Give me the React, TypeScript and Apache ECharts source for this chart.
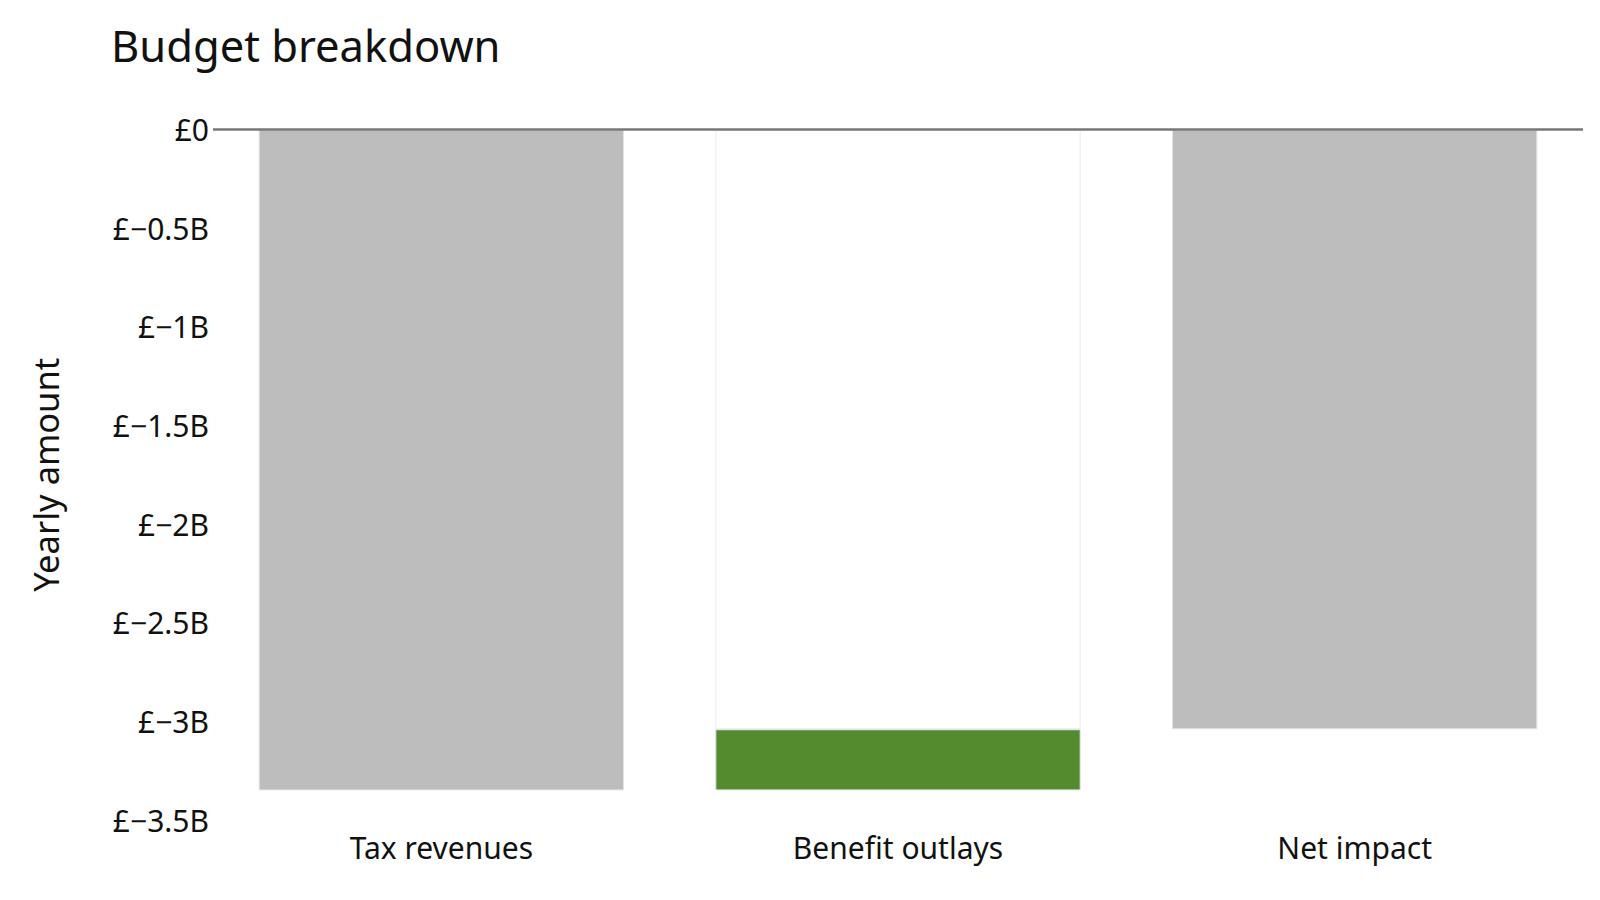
import React, { useEffect, useRef } from "react";
import * as echarts from "echarts";

const categories = ["Tax revenues", "Benefit outlays", "Net impact"];
const taxRevenues = -3.35;
const benefitOutlays = 0.31;
const netImpact = -3.04;
const amounts = [taxRevenues, benefitOutlays, netImpact];
const kinds = ["total", "delta", "total"];
const yTicks = { min: -3.5, max: 0, interval: 0.5 };

const FONT = "Noto Sans";
const TEXT = "#111111";

export default function App() {
  const ref = useRef<HTMLDivElement>(null);
  useEffect(() => {
    if (!ref.current) return;
    const chart = echarts.init(ref.current, undefined, { renderer: "svg" });

    // waterfall: invisible base + visible part
    let running = 0;
    const baseData: number[] = [];
    const visData: { value: number; itemStyle: any }[] = [];
    amounts.forEach((v, i) => {
      if (kinds[i] === "total") {
        baseData.push(0);
        visData.push({ value: v, itemStyle: { color: "#BDBDBD" } });
        running = v;
      } else {
        const end = running + v;
        baseData.push(v > 0 ? end : running);
        visData.push({ value: -Math.abs(v), itemStyle: { color: "#558B2F" } });
        running = end;
      }
    });

    const fmt = (val: number) => {
      if (val === 0) return "£0";
      return "£\u2212" + String(Math.abs(val)) + "B";
    };

    chart.setOption({
      animation: false,
      backgroundColor: "#ffffff",
      title: {
        text: "Budget breakdown",
        left: 106,
        top: 18,
        textStyle: { fontFamily: FONT, fontSize: 43.5, fontWeight: "normal", color: TEXT },
      },
      grid: { left: 213, right: 17, top: 129.5, bottom: 80, containLabel: false },
      xAxis: {
        type: "category",
        data: categories,
        axisLine: { show: false },
        axisTick: { show: false },
        splitLine: { show: false },
        axisLabel: { fontFamily: FONT, fontSize: 30, color: TEXT, margin: 12 },
      },
      yAxis: {
        type: "value",
        min: yTicks.min,
        max: yTicks.max,
        interval: yTicks.interval,
        name: "Yearly amount",
        nameLocation: "middle",
        nameGap: 150,
        nameTextStyle: { fontFamily: FONT, fontSize: 34.5, color: TEXT },
        axisLine: { show: false },
        axisTick: { show: false },
        splitLine: { show: false },
        axisLabel: { fontFamily: FONT, fontSize: 30, color: TEXT, margin: 4, formatter: fmt },
      },
      series: [
        {
          name: "base",
          type: "bar",
          stack: "wf",
          barCategoryGap: "20%",
          data: baseData,
          itemStyle: { color: "rgba(0,0,0,0)", borderColor: "#e6ebf3", borderWidth: 1 },
          silent: true,
          markLine: {
            silent: true,
            symbol: ["none", "none"],
            label: { show: false },
            lineStyle: { color: "#777777", width: 2.5, type: "solid" },
            data: [{ yAxis: 0 }],
          },
          z: 3,
        },
        {
          name: "amount",
          type: "bar",
          stack: "wf",
          barCategoryGap: "20%",
          data: visData,
          itemStyle: { borderColor: "#dfe4ec", borderWidth: 1 },
          z: 2,
        },
      ],
    });
    return () => chart.dispose();
  }, []);
  return (
    <div
      ref={ref}
      style={{ position: "fixed", left: 0, top: 0, width: 1600, height: 900, background: "#fff" }}
    />
  );
}
